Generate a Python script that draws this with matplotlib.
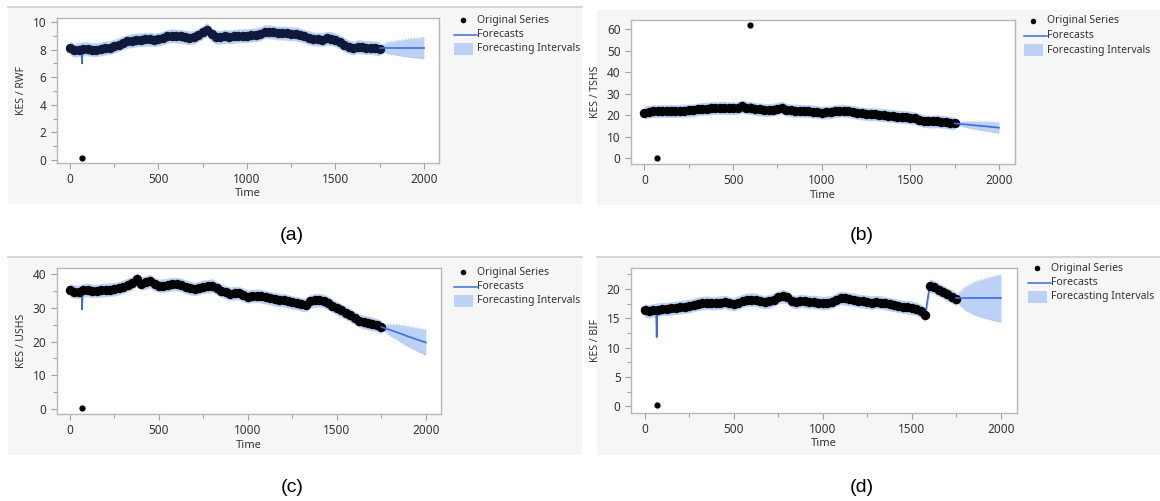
import numpy as np
import matplotlib.pyplot as plt
from matplotlib.patches import Rectangle
from matplotlib.lines import Line2D
from matplotlib.ticker import MultipleLocator

# time grid of the original series (every 25 steps)
time = np.arange(0, 1751, 25)

# KES / RWF
rwf = [8.10, 7.95, 8.00, 8.05, 8.05, 8.00, 8.00, 8.05, 8.10, 8.15,
       8.25, 8.35, 8.50, 8.60, 8.65, 8.70, 8.72, 8.75, 8.75, 8.72,
       8.75, 8.85, 8.95, 9.00, 8.98, 8.95, 8.90, 8.85, 8.90, 9.05,
       9.25, 9.45, 9.10, 8.90, 8.90, 8.95, 8.92, 8.95, 9.00, 9.00,
       9.00, 9.05, 9.08, 9.15, 9.30, 9.30, 9.25, 9.20, 9.20, 9.18,
       9.15, 9.15, 9.05, 8.95, 8.85, 8.78, 8.75, 8.72, 8.82, 8.80,
       8.70, 8.55, 8.35, 8.20, 8.10, 8.22, 8.18, 8.15, 8.15, 8.10, 8.05]
# KES / TSHS
tshs = [21.3, 21.8, 22.0, 22.0, 22.0, 22.0, 22.1, 22.0, 22.2, 22.2,
        22.3, 22.3, 22.8, 23.0, 23.2, 23.3, 23.4, 23.5, 23.5, 23.4,
        23.3, 23.5, 24.2, 23.5, 23.4, 23.0, 22.8, 22.6, 22.5, 22.7,
        23.1, 23.6, 22.6, 22.3, 22.2, 22.2, 22.1, 22.0, 21.8, 21.6,
        21.3, 21.4, 21.5, 21.9, 22.2, 22.2, 21.9, 21.6, 21.2, 20.9,
        20.7, 20.6, 20.5, 20.3, 20.1, 19.9, 19.7, 19.5, 19.3, 19.2,
        19.0, 18.6, 18.0, 17.4, 17.2, 17.2, 17.3, 17.1, 16.8, 16.5, 16.3]
# KES / USHS
ushs = [35.2, 34.8, 34.7, 35.2, 35.3, 35.0, 35.0, 35.2, 35.3, 35.4,
        35.5, 35.8, 36.3, 36.8, 37.3, 38.4, 37.2, 37.5, 37.9, 37.0,
        36.5, 36.6, 36.8, 37.0, 37.0, 36.8, 36.2, 35.8, 35.6, 35.9,
        36.3, 36.4, 36.6, 35.8, 35.1, 34.6, 34.2, 34.3, 34.3, 33.8,
        33.3, 33.5, 33.6, 33.4, 33.1, 32.8, 32.5, 32.3, 32.3, 31.9,
        31.6, 31.3, 31.0, 30.8, 31.9, 32.2, 32.3, 32.0, 31.5, 30.6,
        29.8, 29.2, 28.5, 27.8, 27.0, 26.2, 25.8, 25.5, 25.2, 24.8, 24.3]
# KES / BIF
bif = [16.4, 16.2, 16.4, 16.5, 16.6, 16.6, 16.7, 16.8, 16.9, 17.0,
       17.1, 17.3, 17.5, 17.6, 17.7, 17.6, 17.6, 17.7, 17.8, 17.6,
       17.4, 17.7, 18.0, 18.2, 18.2, 18.2, 17.9, 17.8, 17.9, 18.2,
       18.6, 18.8, 18.6, 17.9, 17.8, 18.0, 17.9, 17.8, 17.8, 17.7,
       17.6, 17.7, 17.8, 18.2, 18.5, 18.4, 18.3, 18.2, 18.0, 17.9,
       17.8, 17.7, 17.8, 17.7, 17.6, 17.4, 17.3, 17.1, 17.0, 16.9,
       16.8, 16.6, 16.3, 15.6, 20.6, 20.3, 19.9, 19.5, 19.1, 18.7, 18.3]

# outlying observations (time, value)
out_rwf = ([68], [0.15])
out_tshs = ([68, 595], [0.3, 62.0])
out_ushs = ([68], [0.3])
out_bif = ([68], [0.2])

# one-step forecast dip / jump
spike_rwf = (68, 7.0)
spike_tshs = (598, 25.5)
spike_ushs = (68, 29.5)
spike_bif = (68, 11.8)

# forecast horizon
fc_time = [1750, 1800, 1850, 1900, 1950, 2000]
fc_rwf = [8.10, 8.10, 8.10, 8.10, 8.10, 8.10]
fc_rwf_lo = [7.95, 7.70, 7.58, 7.48, 7.40, 7.35]
fc_rwf_hi = [8.25, 8.55, 8.65, 8.75, 8.82, 8.88]
fc_tshs = [16.3, 15.9, 15.5, 15.1, 14.7, 14.3]
fc_tshs_lo = [15.9, 14.7, 13.8, 13.1, 12.4, 11.7]
fc_tshs_hi = [16.7, 17.1, 17.2, 17.1, 17.0, 16.9]
fc_ushs = [24.3, 23.4, 22.5, 21.5, 20.6, 19.7]
fc_ushs_lo = [23.8, 21.7, 20.1, 18.5, 17.2, 15.9]
fc_ushs_hi = [24.8, 25.1, 24.9, 24.5, 24.0, 23.5]
fc_bif = [18.4, 18.4, 18.4, 18.4, 18.4, 18.4]
fc_bif_lo = [17.8, 16.4, 15.6, 15.1, 14.7, 14.3]
fc_bif_hi = [19.0, 20.4, 21.2, 21.7, 22.1, 22.5]

labels = ["KES / RWF", "KES / TSHS", "KES / USHS", "KES / BIF"]
captions = ["(a)", "(b)", "(c)", "(d)"]

W, H = 1160, 501
fig = plt.figure(figsize=(W / 100, H / 100), dpi=100)
fig.patch.set_facecolor('white')

BLUE = '#3a6de0'
BAND = '#bdd0f6'
GRAY_BG = '#f6f6f6'
TXT = '#333333'
FONT = 'Noto Sans'


def fbox(x0, y0, x1, y1):
    return [x0 / W, 1 - y1 / H, (x1 - x0) / W, (y1 - y0) / H]


def fx(x):
    return x / W


def fy(y):
    return 1 - y / H


# panel layout in pixels: background, plot area, limits, ticks, legend
panels = [
    dict(series=rwf, out=out_rwf, spike=spike_rwf, fc=(fc_rwf, fc_rwf_lo, fc_rwf_hi),
         half=0.5, bg=(8, 7, 582, 204), top_line=True, plot=(57, 18, 439, 163),
         xlim=(-73, 2085), ylim=(-0.22, 10.29), ymaj=2, ymin=1, color='#0f1a3a',
         leg=(463, 20), time_y=193, cap=(292, 236)),
    dict(series=tshs, out=out_tshs, spike=spike_tshs, fc=(fc_tshs, fc_tshs_lo, fc_tshs_hi),
         half=3.0, bg=(597, 10, 1160, 205), top_line=False, plot=(631, 20, 1015, 164),
         xlim=(-76, 2090), ylim=(-2.6, 64.4), ymaj=10, ymin=None, color='black',
         leg=(1033, 21), time_y=195, cap=(862, 236)),
    dict(series=ushs, out=out_ushs, spike=spike_ushs, fc=(fc_ushs, fc_ushs_lo, fc_ushs_hi),
         half=2.0, bg=(8, 257, 582, 455), top_line=True, plot=(57, 268, 441, 414),
         xlim=(-73, 2085), ylim=(-1.5, 41.8), ymaj=10, ymin=5, color='black',
         leg=(463, 272), time_y=446, cap=(292, 487)),
    dict(series=bif, out=out_bif, spike=spike_bif, fc=(fc_bif, fc_bif_lo, fc_bif_hi),
         half=1.15, bg=(597, 257, 1160, 455), top_line=True, plot=(631, 268, 1017, 413),
         xlim=(-76, 2090), ylim=(-1.14, 23.6), ymaj=5, ymin=2.5, color='black',
         leg=(1037, 268), time_y=443, cap=(862, 487)),
]

for p, lab, cap in zip(panels, labels, captions):
    bx0, by0, bx1, by1 = p['bg']
    fig.add_artist(Rectangle((fx(bx0), fy(by1)), (bx1 - bx0) / W, (by1 - by0) / H,
                             transform=fig.transFigure, facecolor=GRAY_BG,
                             edgecolor='none', zorder=-2))
    if p['top_line']:
        fig.add_artist(Line2D([fx(bx0), fx(bx1)], [fy(by0), fy(by0)],
                              transform=fig.transFigure, color='#cfcfcf', lw=1.2, zorder=-1))

    ax = fig.add_axes(fbox(*p['plot']))
    ax.set_facecolor('white')
    v = np.array(p['series'])

    # in-sample band and forecast band
    ax.fill_between(time, v - p['half'], v + p['half'], color=BAND, lw=0, zorder=1)
    fc, lo, hi = p['fc']
    ax.fill_between(fc_time, lo, hi, color=BAND, lw=0, zorder=1)
    ax.plot(fc_time, hi, color='#a9c1f3', lw=0.8, ls=':', zorder=1)
    ax.plot(fc_time, lo, color='#a9c1f3', lw=0.8, ls=':', zorder=1)

    # one-step forecasts with the dip
    st, sv = p['spike']
    idx = np.searchsorted(time, st)
    ft = np.insert(time.astype(float), idx, [st - 3, st, st + 3])
    fv = np.insert(v, idx, [np.interp(st, time, v), sv, np.interp(st, time, v)])
    ax.plot(ft, fv, color=BLUE, lw=1.2, zorder=2)

    # observations
    ax.plot(time, v, 'o', color=p['color'], ms=6.8, mew=0, zorder=3)
    ax.plot(p['out'][0], p['out'][1], 'o', color='black', ms=4.5, mew=0, zorder=3)

    # forecast line
    ax.plot(fc_time, fc, color=BLUE, lw=1.2, zorder=4)

    ax.set_xlim(*p['xlim'])
    ax.set_ylim(*p['ylim'])
    ax.set_xticks([0, 500, 1000, 1500, 2000])
    ax.xaxis.set_minor_locator(MultipleLocator(250))
    ax.yaxis.set_major_locator(MultipleLocator(p['ymaj']))
    if p['ymin']:
        ax.yaxis.set_minor_locator(MultipleLocator(p['ymin']))
    ax.tick_params(which='both', direction='out', color='#a0a0a0', width=0.8,
                   labelsize=8.5, labelcolor=TXT)
    ax.tick_params(which='major', length=4)
    ax.tick_params(which='minor', length=3)
    for t in ax.get_xticklabels() + ax.get_yticklabels():
        t.set_fontfamily(FONT)
    for s in ax.spines.values():
        s.set_color('#b8b8b8')
        s.set_linewidth(1.0)

    px0, py0, px1, py1 = p['plot']
    fig.text(fx((px0 + px1) / 2), fy(p['time_y']), 'Time', ha='center', va='center',
             fontsize=8, color=TXT, family=FONT)
    fig.text(fx(px0 - 35), fy((py0 + py1) / 2), lab, ha='center', va='center',
             rotation=90, fontsize=7.5, color=TXT, family=FONT)

    # legend
    lx, ly = p['leg']
    fig.add_artist(Line2D([fx(lx)], [fy(ly)], marker='o', color='black', ms=4, mew=0,
                          transform=fig.transFigure))
    fig.add_artist(Line2D([fx(lx - 9), fx(lx + 14)], [fy(ly + 15), fy(ly + 15)],
                          color=BLUE, lw=1.1, transform=fig.transFigure))
    fig.add_artist(Rectangle((fx(lx - 9), fy(ly + 35)), 19 / W, 12 / H,
                             transform=fig.transFigure, facecolor=BAND, edgecolor='none'))
    for k, txt in enumerate(['Original Series', 'Forecasts', 'Forecasting Intervals']):
        fig.text(fx(lx + 14), fy(ly + k * 14.5), txt, ha='left', va='center',
                 fontsize=7.5, color=TXT, family=FONT)

    fig.text(fx(p['cap'][0]), fy(p['cap'][1]), cap, ha='center', va='center',
             fontsize=14, color='black', family='Liberation Sans')

fig.savefig('out.png', dpi=100, facecolor='white')
